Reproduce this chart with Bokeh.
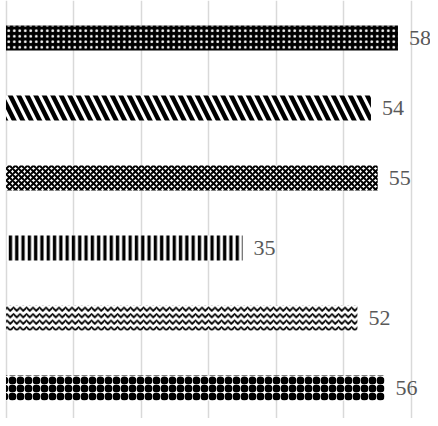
from bokeh.plotting import figure
from bokeh.models import Range1d, ColumnDataSource, FixedTicker
from bokeh.embed import file_html
from bokeh.resources import INLINE
from bokeh.core.properties import value

categories = ["A", "B", "C", "D", "E", "F"]
values = [58, 54, 55, 35, 52, 56]
patterns = ["dot", "left_diagonal_line", "diagonal_cross", "vertical_line", "horizontal_wave", "ring"]
fills = ["black", "white", "white", "white", "white", "white"]
hcolors = ["white", "black", "black", "black", "black", "black"]
scales = [5.5, 17, 6, 6.3, 6.5, 8]
weights = [2, 4.5, 2, 3.3, 1.8, 4]
x_ticks = [0, 10, 20, 30, 40, 50, 60]

ypos = list(range(len(categories)))

p = figure(width=430, height=418, output_backend="svg", toolbar_location=None,
           x_range=Range1d(-0.814, 62.81), y_range=Range1d(5.4357, -0.5357),
           min_border=0, min_border_left=0, min_border_right=0,
           min_border_top=0, min_border_bottom=0)
p.outline_line_color = None
p.xaxis.visible = False
p.yaxis.visible = False
p.ygrid.visible = False
p.xgrid.ticker = FixedTicker(ticks=x_ticks)
p.xgrid.grid_line_color = "#d9d9d9"
p.xgrid.grid_line_width = 1.5

for i in range(len(categories)):
    src = ColumnDataSource(dict(y=[ypos[i]], right=[values[i]]))
    p.hbar(y="y", left=0, right="right", height=0.357, source=src,
           fill_color=fills[i], line_color=None,
           hatch_pattern=patterns[i], hatch_color=hcolors[i],
           hatch_scale=scales[i], hatch_weight=weights[i])

lsrc = ColumnDataSource(dict(x=values, y=ypos, t=[str(v) for v in values]))
p.text(x="x", y="y", text="t", source=lsrc, x_offset=11,
       text_baseline="middle", text_align="left",
       text_font=value("Times New Roman"), text_font_size="22px",
       text_color="#595959")

open("out.html", "w").write(file_html(p, INLINE))
